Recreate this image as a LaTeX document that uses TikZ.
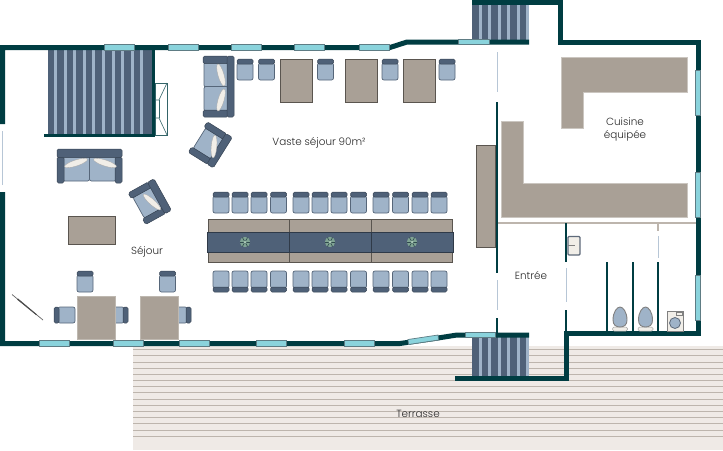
\documentclass[tikz,border=0pt]{standalone}
\usepackage{fontspec}
\setmainfont{Poppins}[UprightFont=* Light]
\definecolor{wallc}{HTML}{003D42}
\definecolor{winc}{HTML}{8AD3DC}
\definecolor{winb}{HTML}{5E7C84}
\definecolor{seatc}{HTML}{9FB3C8}
\definecolor{backc}{HTML}{4F6178}
\definecolor{tablec}{HTML}{A9A096}
\definecolor{tabled}{HTML}{5A554F}
\definecolor{terc}{HTML}{EFEAE6}
\definecolor{terl}{HTML}{BDB5AD}
\definecolor{doorc}{HTML}{B7C6D6}
\definecolor{pillowc}{HTML}{F1EEE8}
\definecolor{txtc}{HTML}{2A2A2A}
\definecolor{flowa}{HTML}{7FA393}
\definecolor{flowb}{HTML}{2F4A4C}
\definecolor{flowc}{HTML}{A9C8B6}
\tikzset{
  x=1pt,y=-1pt,
  wall/.style={draw=wallc,line width=5pt,line cap=butt,line join=miter},
  iwall/.style={draw=wallc,line width=2.8pt},
  win/.style={fill=winc,draw=winb,line width=.7pt},
  door/.style={draw=doorc,line width=1pt},
  ttable/.style={fill=tablec,draw=tabled,line width=.7pt},
  ltable/.style={fill=tablec,draw=tablec!75!white,line width=.7pt},
  counter/.style={fill=tablec,draw=tablec!60!white,line width=.6pt},
  seat/.style={fill=seatc,draw=backc!85!gray,line width=.7pt,rounded corners=2pt},
  bandc/.style={fill=backc,draw=backc!70!black,line width=.5pt,rounded corners=1.6pt},
  pillow/.style={fill=pillowc,draw=gray!70,line width=.3pt},
  lab/.style={font=\fontsize{10.4}{13}\selectfont,text=txtc,align=center,inner sep=0pt},
  chair/.pic={
    \path[seat] (-8,-6.5) rectangle (8,10.5);
    \path[bandc] (-8,-10.5) rectangle (8,-5.5);
  },
  armchair/.pic={
    \path[seat] (-13,-12) rectangle (8,12);
    \path[bandc] (-15,-18) rectangle (8,-11.5);
    \path[bandc] (-15,11.5) rectangle (8,18);
    \path[bandc] (7,-18) rectangle (14.5,18);
  },
  flower/.pic={
    \fill[fill=flowa] (0,0) circle [radius=5.2pt];
    \foreach \a in {0,60,...,300}{\draw[draw=flowb,line width=.6pt] (0,0) -- (\a:5.2pt);}
    \fill[fill=flowc] (0,0) circle [radius=1.5pt];
  }
}
\begin{document}
\begin{tikzpicture}
\path[fill=white,use as bounding box] (0,0) rectangle (723,450);

% terrace
\fill[terc] (133,345.5) rectangle (723,450);
\foreach \y in {349,355,362,368,374,380,386,392,399,405,411,417,423,430,436}{
  \draw[terl,line width=.9pt] (133,\y) -- (723,\y);
}

% stairs
\fill[backc] (48,50) rectangle (152,135);
\foreach \k in {0,...,9}{\fill[seatc] ({54+9.6*\k},50) rectangle ({57+9.6*\k},134);}
\fill[backc] (472,5) rectangle (529,40);
\foreach \k in {0,...,5}{\fill[seatc] ({478.5+9.5*\k},5) rectangle ({481.5+9.5*\k},40);}
\fill[backc] (472,337) rectangle (529,376);
\foreach \k in {0,...,5}{\fill[seatc] ({478.5+9.5*\k},337) rectangle ({481.5+9.5*\k},376);}

% fireplace
\draw[draw=wallc!80!white,line width=.6pt] (155,83) rectangle (167,135);
\draw[draw=wallc!80!white,line width=.6pt] (155,100) -- (159,100) -- (167,83);
\draw[draw=wallc!80!white,line width=.6pt] (155,118) -- (159,118) -- (167,135);
\draw[draw=wallc!80!white,line width=.6pt] (159,100) -- (159,118);

% outer walls
\draw[wall] (2.5,124) -- (2.5,47.5) -- (390,47.5) -- (407,42) -- (529,42);
\draw[wall] (472,2.5) -- (560.5,2.5) -- (560.5,42) -- (698,42) -- (698,333.5) -- (566,333.5) -- (566,378) -- (455,378);
\draw[wall] (2.5,192) -- (2.5,343.5) -- (400,343.5) -- (438,338) -- (457,335) -- (529,335);
\draw[line width=3.2pt,draw=wallc] (153.5,47) -- (153.5,135.5) -- (44,135.5);
\draw[door,line width=1.6pt] (2.5,131) -- (2.5,185);

% windows
\foreach \a in {104,168,231,294,359}{\path[win] (\a,44.5) rectangle ++(30,5.5);}
\path[win] (458,39.5) rectangle (489,44.5);
\foreach \a in {39,113,179,256,344}{\path[win] (\a,340.5) rectangle ++(30,6);}
\path[win] (408,339.5) -- (438,335) -- (438.5,340) -- (408.5,344.5) -- cycle;
\path[win] (465,332) rectangle (495,337.5);
\foreach \a in {70,172,275}{\path[win] (695.5,\a) rectangle (700.5,{\a+45});}

% interior walls
\draw[door] (497,52) -- (497,92);
\draw[iwall] (497,102) -- (497,273);
\draw[door] (497,280) -- (497,310);
\draw[iwall] (497,318) -- (497,333);
\draw[draw=terl,line width=1.4pt] (498,223) -- (696,223);
\draw[iwall] (566,223) -- (566,262);
\draw[door] (566,268) -- (566,302);
\draw[iwall] (566,310) -- (566,332);
\draw[draw=terl,line width=1.4pt] (658,223) -- (658,231);
\draw[door] (658,236) -- (658,258);
\foreach \a in {607,633,658}{\draw[iwall] (\a,262) -- (\a,332);}

% kitchen
\path[counter] (561,57) -- (687,57) -- (687,92) -- (583,92) -- (583,128) -- (561,128) -- cycle;
\path[counter] (501,121) -- (523,121) -- (523,183) -- (687,183) -- (687,217) -- (501,217) -- cycle;
\path[ttable] (476.5,145) rectangle (495,247);

% sink
\path[fill=pillowc,draw=backc!70!gray,line width=1.2pt,rounded corners=1pt] (568,236.5) rectangle (580,255);
\draw[draw=gray,line width=.6pt] (568,245.5) -- (575,245.5);

% toilets
\foreach \c in {620,645.5}{
  \path[fill=pillowc,draw=gray!70,line width=.5pt,rounded corners=1.5pt] (\c-7.5,331) -- (\c-7.5,327) -- (\c+7.5,327) -- (\c+7.5,331) -- cycle;
  \path[fill=seatc,draw=gray,line width=.9pt] (\c-7,320) .. controls (\c-7,312) and (\c-3,307) .. (\c,307) .. controls (\c+3,307) and (\c+7,312) .. (\c+7,320) .. controls (\c+7,325) and (\c+4,327) .. (\c,327) .. controls (\c-4,327) and (\c-7,325) .. (\c-7,320) -- cycle;
}
% washing machine
\path[fill=pillowc,draw=gray,line width=.7pt] (667,311) rectangle (683,331);
\path[draw=gray,line width=.5pt] (676,312.5) rectangle (682,315);
\path[fill=seatc,draw=backc!70!gray,line width=.8pt] (675,323) circle (5.5pt);

% chairs near top
\foreach \c in {245,266.5,325.5,390,447}{\pic at (\c,69.5) {chair};}
% long table chairs
\foreach \c in {221,240,259,278.5,301,320,339,358.5,381,400.5,420,439}{
  \pic at (\c,202.5) {chair};
  \pic[rotate=180] at (\c,281.5) {chair};
}
% dining chairs
\pic at (85,281.5) {chair};
\pic at (167.5,281.5) {chair};
\pic[rotate=90] at (64.5,315) {chair};
\pic[rotate=-90] at (117.5,315) {chair};
\pic[rotate=-90] at (180.5,315) {chair};

% tables
\path[ltable] (77,296) rectangle (115,339);
\path[ltable] (140,296) rectangle (178,339);
\path[ttable] (68,216) rectangle (115,244.5);
\foreach \a in {280,345,403}{\path[ttable] (\a,59) rectangle ++(32,43);}

% long table
\path[ttable] (208,219) rectangle (289,262);
\path[ttable] (289,219) rectangle (371,262);
\path[ttable] (371,219) rectangle (452,262);
\path[fill=backc,draw=backc!60!black,line width=.6pt] (207,232) rectangle (289,252);
\path[fill=backc,draw=backc!60!black,line width=.6pt] (289,232) rectangle (371,252);
\path[fill=backc,draw=backc!60!black,line width=.6pt] (371,232) rectangle (453,252);
\pic at (245,242) {flower};
\pic at (330,242) {flower};
\pic at (412,242) {flower};

% sofas
\path[seat] (204,62) rectangle (228,87);
\path[seat] (204,86.5) rectangle (228,111);
\path[bandc] (203,56) rectangle (228,63.5);
\path[bandc] (203,110) rectangle (228,117);
\path[bandc] (227,56) rectangle (234,117);
\path[pillow] (221,75) ellipse [x radius=3pt,y radius=11.5pt,rotate=16];
\path[pillow] (221,100) ellipse [x radius=3pt,y radius=11.5pt,rotate=-16];

\path[seat] (63,156) rectangle (89.5,181);
\path[seat] (89.5,156) rectangle (116,181);
\path[bandc] (57,157) rectangle (64,183);
\path[bandc] (115,157) rectangle (122,183);
\path[bandc] (57,149) rectangle (122,157.5);
\path[pillow] (76,163) ellipse [x radius=12pt,y radius=3pt,rotate=18];
\path[pillow] (105,163) ellipse [x radius=12pt,y radius=3pt,rotate=-18];

\pic[rotate=-32] at (210.5,145) {armchair};
\pic[rotate=29] at (150,201.5) {armchair};
\path[pillow] (214,146.5) ellipse [x radius=2.8pt,y radius=11.5pt,rotate=-5];
\path[pillow] (152,202) ellipse [x radius=2.8pt,y radius=11.5pt,rotate=48];

% umbrella
\draw[draw=gray!80!black,line width=.7pt] (12,294.5) -- (43,320);
\path[fill=black!70] (18,298.5) -- (37,314.5) -- (36,315) -- (17,299.5) -- cycle;

% labels
\node[lab] (l1) at (319,143) {Vaste séjour 90m²};
\node[lab] (l2) at (147,252) {Séjour};
\node[lab] (l3) at (625,129.5) {Cuisine\\[0pt]équipée};
\node[lab] (l4) at (531,275.5) {Entrée};
\node[lab] (l5) at (418,414) {Terrasse};
\end{tikzpicture}
\end{document}
